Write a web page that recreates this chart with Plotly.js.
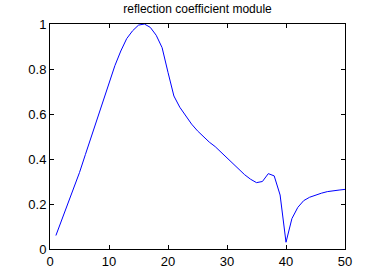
<!DOCTYPE html>
<html>
<head>
<meta charset="utf-8">
<script src="https://cdn.plot.ly/plotly-3.0.1.min.js"></script>
<style>html,body{margin:0;padding:0;background:#fff;}#chart{width:381px;height:280px;}</style>
</head>
<body>
<div id="chart"></div>
<script>
const xValues = [1,2,3,4,5,6,7,8,9,10,11,12,13,14,15,16,17,18,19,20,21,22,23,24,25,26,27,28,29,30,31,32,33,34,35,36,37,38,39,40,41,42,43,44,45,46,47,48,49,50];
const reflectionModule = [0.06,0.13,0.195,0.265,0.34,0.42,0.50,0.575,0.655,0.735,0.815,0.88,0.935,0.97,0.995,1.0,0.985,0.95,0.895,0.785,0.68,0.63,0.59,0.555,0.525,0.50,0.475,0.455,0.43,0.405,0.38,0.355,0.33,0.31,0.295,0.30,0.335,0.325,0.24,0.03,0.135,0.185,0.215,0.23,0.24,0.248,0.255,0.26,0.262,0.265];
const titleText = 'reflection coefficient module';

const font = {family: 'Liberation Sans, Arial, Helvetica, sans-serif', size: 13, color: '#000'};
Plotly.newPlot('chart', [{
  x: xValues, y: reflectionModule, type: 'scatter', mode: 'lines',
  line: {color: '#0000ff', width: 1}, hoverinfo: 'none'
}], {
  width: 381, height: 280,
  margin: {l: 50, r: 36, t: 24, b: 31, pad: 0},
  paper_bgcolor: '#fff', plot_bgcolor: '#fff',
  font: font,
  showlegend: false,
  title: {text: titleText, font: {family: font.family, size: 12, color: '#000'}, x: 0.5, xref: 'paper', xanchor: 'center', y: 1 - 9/280, yref: 'container', yanchor: 'middle'},
  xaxis: {range: [0, 50], dtick: 10, tick0: 0, ticks: 'inside', ticklen: 4, tickcolor: '#000', tickwidth: 1,
          showline: true, linecolor: '#000', linewidth: 1, mirror: 'ticks', showgrid: false, zeroline: false,
          tickfont: font, fixedrange: true},
  yaxis: {range: [0, 1], dtick: 0.2, tick0: 0, ticks: 'inside', ticklen: 4, tickcolor: '#000', tickwidth: 1,
          showline: true, linecolor: '#000', linewidth: 1, mirror: 'ticks', showgrid: false, zeroline: false,
          tickfont: font, fixedrange: true}
}, {displayModeBar: false, staticPlot: true});
</script>
</body>
</html>
